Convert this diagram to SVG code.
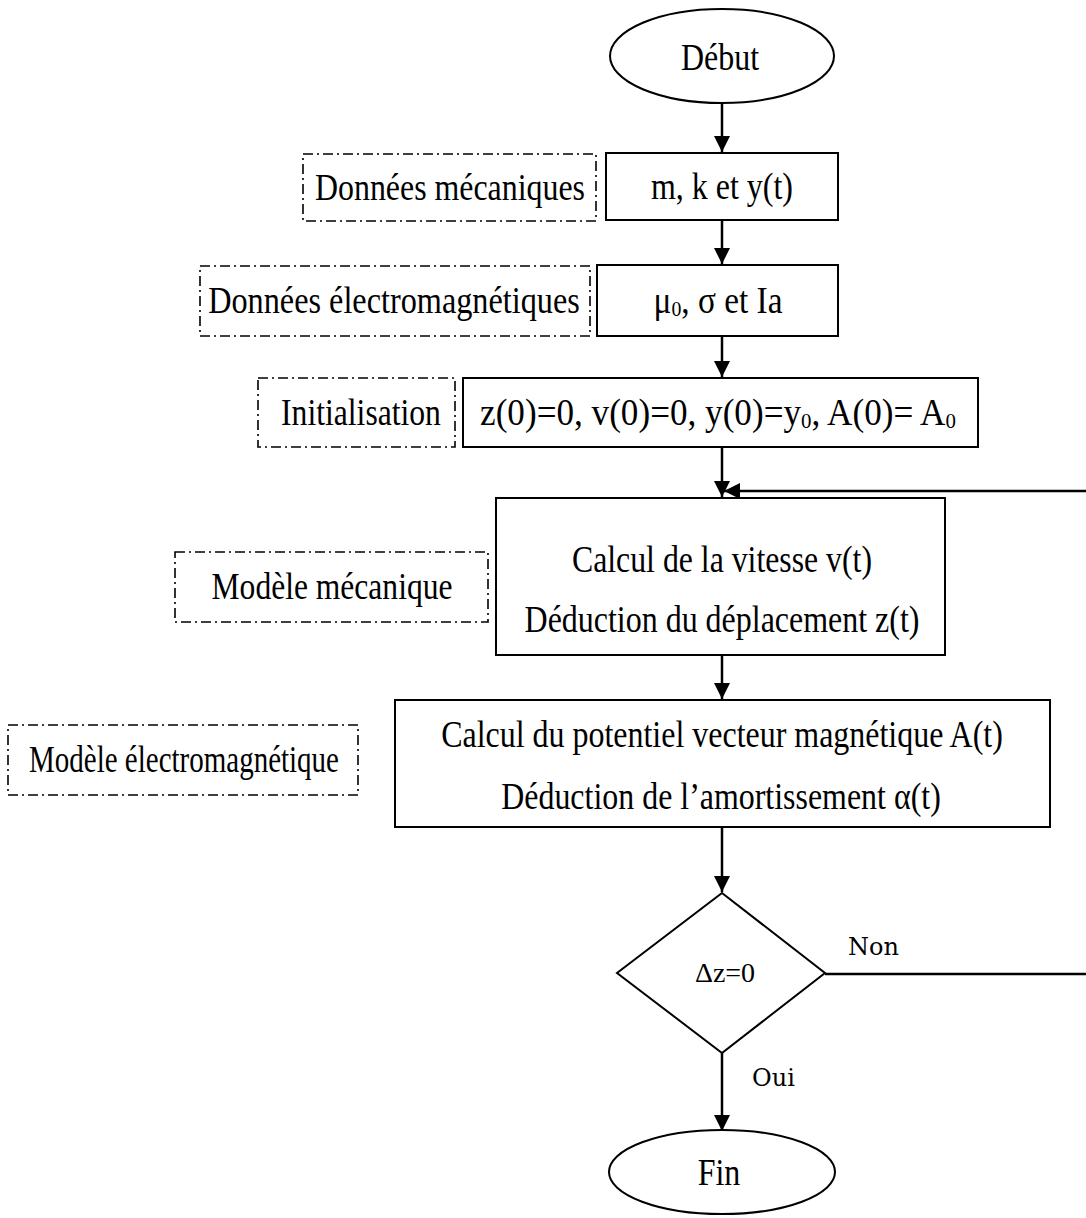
<svg xmlns="http://www.w3.org/2000/svg" width="1086" height="1218" viewBox="0 0 1086 1218">
<style>
.t{font-family:"Liberation Serif","Times New Roman",serif;font-size:37px;fill:#000;text-anchor:middle}
.s{font-size:22px}
.box{fill:#fff;stroke:#000;stroke-width:2}
.dash{fill:none;stroke:#000;stroke-width:1.6;stroke-dasharray:10 4 2 4}
.c{fill:none;stroke:#000;stroke-width:2.5}
.lbl{font-family:"DejaVu Serif",serif;font-size:24px;fill:#000}
</style>
<defs>
<marker id="ah" markerUnits="userSpaceOnUse" markerWidth="18" markerHeight="16" refX="16" refY="8" orient="auto">
<path d="M0,0 L16,8 L0,16 Z" fill="#000"/>
</marker>
</defs>
<g id="connectors">
<path class="c" d="M722,103 V152" marker-end="url(#ah)"/>
<path class="c" d="M722,220 V264" marker-end="url(#ah)"/>
<path class="c" d="M722,336 V377" marker-end="url(#ah)"/>
<path class="c" d="M722,447 V497" marker-end="url(#ah)"/>
<path class="c" d="M722,655 V699" marker-end="url(#ah)"/>
<path class="c" d="M722,827 V892" marker-end="url(#ah)"/>
<path class="c" d="M722,1053 V1131" marker-end="url(#ah)"/>
<path class="c" d="M825,974 H1094 V491 H724" marker-end="url(#ah)"/>
<text class="lbl" x="848" y="955">Non</text>
<text class="lbl" x="752" y="1086">Oui</text>
</g>
<g id="debut">
<ellipse class="box" cx="722" cy="56" rx="112" ry="47"/>
<text class="t" transform="translate(720,70) scale(0.864,1)">Début</text>
</g>
<g id="note-meca">
<rect class="dash" x="303" y="154" width="293" height="67"/>
<text class="t" transform="translate(450,200) scale(0.862,1)">Données mécaniques</text>
</g>
<g id="data-meca">
<rect class="box" x="606" y="153" width="232" height="67"/>
<text class="t" transform="translate(722,199) scale(0.864,1)">m, k et y(t)</text>
</g>
<g id="note-em">
<rect class="dash" x="200" y="266" width="390" height="70"/>
<text class="t" transform="translate(394,313) scale(0.872,1)">Données électromagnétiques</text>
</g>
<g id="data-em">
<rect class="box" x="597" y="265" width="241" height="71"/>
<text class="t" transform="translate(718,313) scale(0.9,1)">μ<tspan class="s" dy="3">0</tspan><tspan dy="-3">, σ et Ia</tspan></text>
</g>
<g id="note-init">
<rect class="dash" x="258" y="378" width="197" height="69"/>
<text class="t" transform="translate(361,425) scale(0.855,1)">Initialisation</text>
</g>
<g id="init">
<rect class="box" x="463" y="378" width="515" height="69"/>
<text class="t" transform="translate(718,425) scale(0.95,1)">z(0)=0, v(0)=0, y(0)=y<tspan class="s" dy="3">0</tspan><tspan dy="-3">, A(0)= A</tspan><tspan class="s" dy="3">0</tspan></text>
</g>
<g id="note-mod-meca">
<rect class="dash" x="175" y="552" width="313" height="70"/>
<text class="t" transform="translate(332,599) scale(0.853,1)">Modèle mécanique</text>
</g>
<g id="mod-meca">
<rect class="box" x="496" y="498" width="449" height="157"/>
<text class="t" transform="translate(722,572) scale(0.859,1)">Calcul de la vitesse v(t)</text>
<text class="t" transform="translate(722,632) scale(0.864,1)">Déduction du déplacement z(t)</text>
</g>
<g id="note-mod-em">
<rect class="dash" x="8" y="725" width="350" height="70"/>
<text class="t" transform="translate(184,772) scale(0.784,1)">Modèle électromagnétique</text>
</g>
<g id="mod-em">
<rect class="box" x="395" y="700" width="655" height="127"/>
<text class="t" transform="translate(722,747) scale(0.864,1)">Calcul du potentiel vecteur magnétique A(t)</text>
<text class="t" transform="translate(721,809) scale(0.863,1)">Déduction de l’amortissement α(t)</text>
</g>
<g id="test">
<path class="box" d="M722,893 L825,973 L722,1053 L617,973 Z"/>
<text class="t" x="725" y="982" style="font-size:28px">Δz=0</text>
</g>
<g id="fin">
<ellipse class="box" cx="722" cy="1172" rx="113" ry="42"/>
<text class="t" transform="translate(719,1185) scale(0.864,1)">Fin</text>
</g>
</svg>
